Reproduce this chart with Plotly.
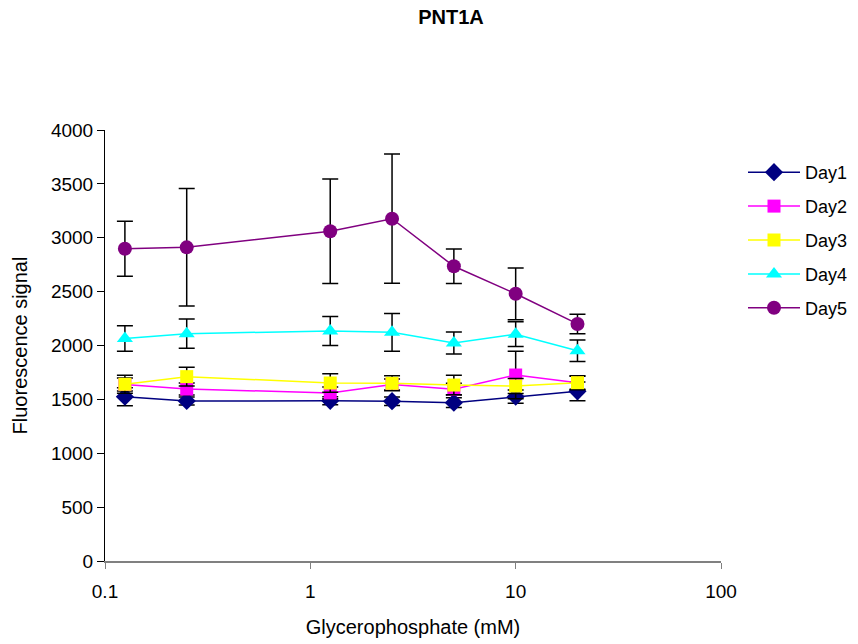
import plotly.graph_objects as go

conc = [0.125, 0.25, 1.25, 2.5, 5, 10, 20]

day1 = [1525, 1485, 1487, 1483, 1469, 1525, 1575]
day1_err = [84, 38, 38, 40, 45, 62, 87]
day2 = [1638, 1596, 1560, 1638, 1595, 1726, 1655]
day2_err = [60, 55, 55, 50, 55, 220, 60]
day3 = [1640, 1711, 1652, 1649, 1633, 1624, 1655]
day3_err = [83, 87, 85, 70, 90, 70, 65]
day4 = [2065, 2110, 2135, 2122, 2023, 2105, 1952]
day4_err = [118, 135, 135, 175, 103, 115, 100]
day5 = [2898, 2911, 3060, 3177, 2735, 2480, 2200]
day5_err = [255, 545, 485, 600, 160, 240, 90]

series = [
    ("Day1", day1, day1_err, "#000080", "diamond", 14),
    ("Day2", day2, day2_err, "#FF00FF", "square", 13),
    ("Day3", day3, day3_err, "#FFFF00", "square", 13),
    ("Day4", day4, day4_err, "#00FFFF", "triangle-up", 14),
    ("Day5", day5, day5_err, "#800080", "circle", 14),
]

fig = go.Figure()
for name, vals, errs, col, sym, sz in series:
    fig.add_trace(go.Scatter(
        x=conc, y=vals, name=name, legendgroup=name,
        mode="lines+markers",
        line=dict(color=col, width=1.5),
        marker=dict(symbol=sym, size=sz, color=col, line=dict(width=0)),
        error_y=dict(type="data", array=errs, visible=True,
                     color="black", thickness=1.5, width=8),
    ))

fig.update_layout(
    width=858, height=644,
    paper_bgcolor="white", plot_bgcolor="white",
    margin=dict(l=105, r=137, t=130, b=83, autoexpand=False),
    font=dict(family="Liberation Sans, Arial, sans-serif", size=19, color="black"),
    title=dict(text="<b>PNT1A</b>", x=451/858, xanchor="center", y=1 - 17/644,
               yanchor="middle", font=dict(size=20)),
    showlegend=True,
    legend=dict(x=(743 - 105) / 616, xanchor="left", y=(561 - 154) / 431,
                yanchor="top", tracegroupgap=7.5, itemwidth=52,
                font=dict(size=18), bgcolor="rgba(0,0,0,0)"),
    xaxis=dict(
        type="log", range=[-1, 2], automargin=False,
        tickvals=[0.1, 1, 10, 100], ticktext=["0.1", "1", "10", "100"],
        showgrid=False, zeroline=False,
        showline=True, linecolor="#808080", linewidth=1.5,
        ticks="outside", ticklen=6, tickcolor="#808080",
        ticklabelstandoff=6, tickfont=dict(size=19),
        title=dict(text="Glycerophosphate (mM)", standoff=19, font=dict(size=20)),
    ),
    yaxis=dict(
        range=[0, 4000], tickvals=list(range(0, 4001, 500)), automargin=False,
        showgrid=False, zeroline=False,
        showline=True, linecolor="black", linewidth=1,
        ticks="outside", ticklen=7, tickcolor="black",
        tickfont=dict(size=19),
        title=dict(text="Fluorescence signal", standoff=17, font=dict(size=20)),
    ),
)

fig.write_html("out.html")
